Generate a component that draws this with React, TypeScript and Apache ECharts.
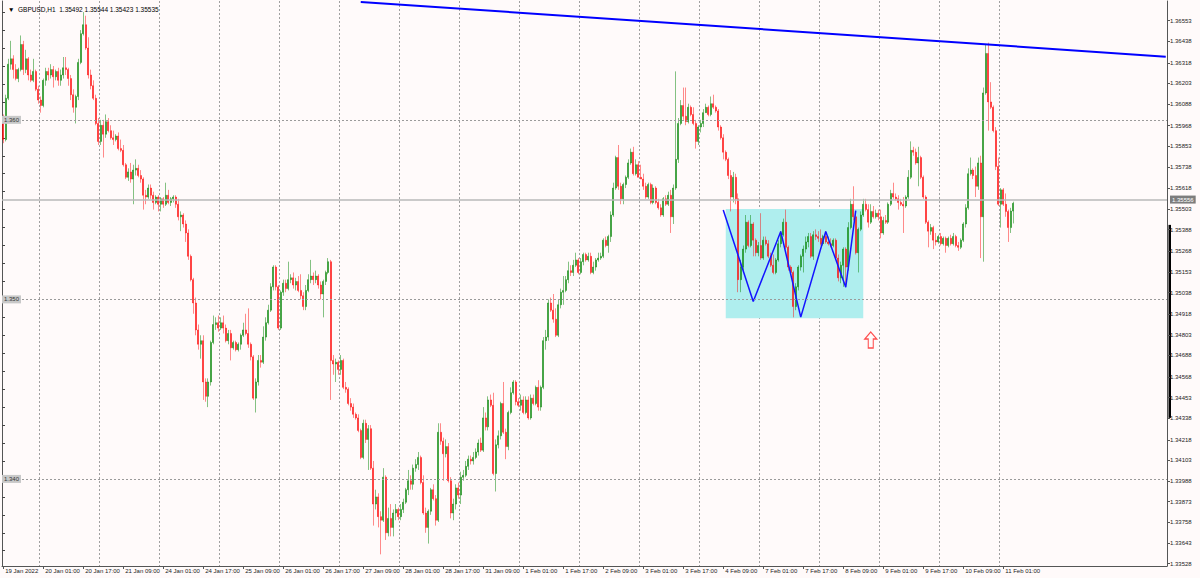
import React, { useEffect, useRef } from "react";
import * as echarts from "echarts";

// ---- GBPUSD H1 bars (bar 0 = 19 Jan 2022 09:00) ----
const opens = [
1.3600,1.3589,1.3612,1.3631,1.3634,1.3628,1.3623,1.3628,1.3642,1.3628,
1.3634,1.3625,1.3622,1.3627,1.3617,1.3611,1.3608,1.3622,1.3627,1.3625,
1.3628,1.3624,1.3627,1.3622,1.3625,1.3629,1.3628,1.3623,1.3614,1.3607,
1.3613,1.3632,1.3648,1.3653,1.3640,1.3625,1.3619,1.3612,1.3598,1.3588,
1.3597,1.3592,1.3599,1.3594,1.3590,1.3589,1.3591,1.3584,1.3583,1.3575,
1.3568,1.3571,1.3567,1.3572,1.3573,1.3569,1.3567,1.3558,1.3557,1.3562,
1.3558,1.3554,1.3557,1.3553,1.3556,1.3553,1.3558,1.3554,1.3556,1.3557,
1.3553,1.3546,1.3547,1.3542,1.3537,1.3524,1.3511,1.3498,1.3483,1.3475,
1.3477,1.3454,1.3446,1.3454,1.3476,1.3486,1.3487,1.3484,1.3487,1.3484,
1.3477,1.3481,1.3473,1.3476,1.3472,1.3475,1.3480,1.3483,1.3481,1.3475,
1.3468,1.3445,1.3454,1.3466,1.3465,1.3479,1.3487,1.3494,1.3507,1.3518,
1.3507,1.3484,1.3504,1.3509,1.3506,1.3511,1.3512,1.3508,1.3510,1.3505,
1.3502,1.3496,1.3505,1.3511,1.3513,1.3511,1.3513,1.3508,1.3503,1.3510,
1.3515,1.3521,1.3466,1.3464,1.3465,1.3461,1.3466,1.3451,1.3450,1.3442,
1.3440,1.3436,1.3434,1.3427,1.3412,1.3431,1.3422,1.3428,1.3406,1.3386,
1.3390,1.3379,1.3377,1.3401,1.3370,1.3378,1.3373,1.3381,1.3383,1.3379,
1.3383,1.3387,1.3394,1.3399,1.3397,1.3406,1.3408,1.3412,1.3398,1.3381,
1.3373,1.3382,1.3394,1.3389,1.3377,1.3426,1.3421,1.3414,1.3418,1.3399,
1.3381,1.3386,1.3395,1.3391,1.3401,1.3402,1.3407,1.3411,1.3410,1.3412,
1.3415,1.3420,1.3416,1.3434,1.3429,1.3444,1.3441,1.3403,1.3419,1.3424,
1.3442,1.3426,1.3418,1.3437,1.3448,1.3454,1.3443,1.3441,1.3444,1.3437,
1.3444,1.3434,1.3445,1.3442,1.3451,1.3440,1.3451,1.3477,1.3479,1.3498,
1.3494,1.3489,1.3480,1.3497,1.3504,1.3505,1.3511,1.3516,1.3515,1.3519,
1.3522,1.3515,1.3521,1.3525,1.3522,1.3524,1.3515,1.3518,1.3522,1.3523,
1.3524,1.3533,1.3530,1.3535,1.3547,1.3562,1.3579,1.3563,1.3556,1.3564,
1.3568,1.3576,1.3582,1.3570,1.3575,1.3568,1.3567,1.3563,1.3557,1.3564,
1.3554,1.3562,1.3554,1.3551,1.3547,1.3556,1.3553,1.3558,1.3546,1.3562,
1.3578,1.3598,1.3608,1.3602,1.3599,1.3607,1.3603,1.3598,1.3588,1.3596,
1.3598,1.3604,1.3607,1.3603,1.3609,1.3607,1.3605,1.3596,1.3590,1.3582,
1.3578,1.3569,1.3557,1.3568,1.3556,1.3511,1.3518,1.3528,1.3543,1.3530,
1.3542,1.3533,1.3526,1.3530,1.3523,1.3533,1.3531,1.3524,1.3519,1.3515,
1.3522,1.3531,1.3536,1.3543,1.3529,1.3518,1.3515,1.3496,1.3507,1.3518,
1.3524,1.3528,1.3532,1.3535,1.3524,1.3536,1.3535,1.3534,1.3531,1.3535,
1.3532,1.3531,1.3530,1.3533,1.3523,1.3512,1.3519,1.3528,1.3518,1.3540,
1.3553,1.3546,1.3526,1.3539,1.3547,1.3553,1.3550,1.3543,1.3549,1.3546,
1.3548,1.3546,1.3537,1.3544,1.3543,1.3553,1.3559,1.3557,1.3556,1.3554,
1.3553,1.3552,1.3557,1.3568,1.3583,1.3582,1.3576,1.3579,1.3568,1.3557,
1.3543,1.3538,1.3540,1.3533,1.3532,1.3535,1.3531,1.3534,1.3530,1.3534,
1.3531,1.3535,1.3530,1.3529,1.3533,1.3542,1.3551,1.3570,1.3572,1.3569,
1.3563,1.3576,1.3546,1.3615,1.3637,1.3610,1.3607,1.3594,1.3574,1.3553,
1.3561,1.3553,1.3549,1.3540,1.35492,
];

const highs = [
1.3603,1.3614,1.3634,1.3644,1.3636,1.3631,1.3629,1.3647,1.3644,1.3639,
1.3635,1.3628,1.3634,1.3628,1.3619,1.3613,1.3623,1.3629,1.3629,1.3631,
1.3630,1.3628,1.3629,1.3628,1.3635,1.3635,1.3629,1.3625,1.3617,1.3614,
1.3634,1.3650,1.3660,1.3658,1.3646,1.3628,1.3622,1.3614,1.3601,1.3600,
1.3600,1.3603,1.3601,1.3597,1.3594,1.3592,1.3593,1.3589,1.3586,1.3576,
1.3573,1.3576,1.3575,1.3578,1.3575,1.3572,1.3568,1.3561,1.3564,1.3564,
1.3560,1.3558,1.3558,1.3557,1.3557,1.3565,1.3561,1.3557,1.3558,1.3558,
1.3556,1.3549,1.3548,1.3544,1.3539,1.3525,1.3512,1.3501,1.3486,1.3480,
1.3480,1.3456,1.3456,1.3477,1.3491,1.3490,1.3491,1.3490,1.3491,1.3486,
1.3483,1.3483,1.3477,1.3477,1.3476,1.3481,1.3487,1.3492,1.3495,1.3476,
1.3469,1.3456,1.3469,1.3469,1.3485,1.3490,1.3497,1.3509,1.3519,1.3519,
1.3508,1.3505,1.3511,1.3511,1.3521,1.3514,1.3515,1.3512,1.3513,1.3514,
1.3504,1.3508,1.3514,1.3522,1.3515,1.3516,1.3514,1.3510,1.3511,1.3516,
1.3523,1.3522,1.3469,1.3467,1.3466,1.3469,1.3467,1.3454,1.3451,1.3445,
1.3442,1.3437,1.3436,1.3428,1.3433,1.3433,1.3430,1.3430,1.3410,1.3394,
1.3392,1.3382,1.3406,1.3402,1.3384,1.3386,1.3383,1.3386,1.3384,1.3386,
1.3389,1.3395,1.3405,1.3402,1.3408,1.3411,1.3415,1.3413,1.3402,1.3384,
1.3383,1.3395,1.3397,1.3391,1.3431,1.3431,1.3423,1.3422,1.3420,1.3401,
1.3389,1.3397,1.3398,1.3404,1.3405,1.3410,1.3413,1.3413,1.3415,1.3417,
1.3422,1.3423,1.3440,1.3437,1.3446,1.3447,1.3448,1.3422,1.3427,1.3443,
1.3454,1.3428,1.3438,1.3451,1.3455,1.3455,1.3445,1.3447,1.3446,1.3446,
1.3446,1.3447,1.3447,1.3452,1.3455,1.3452,1.3479,1.3483,1.3500,1.3501,
1.3503,1.3495,1.3500,1.3506,1.3513,1.3513,1.3521,1.3519,1.3522,1.3526,
1.3523,1.3523,1.3526,1.3526,1.3526,1.3526,1.3521,1.3523,1.3526,1.3526,
1.3534,1.3535,1.3536,1.3549,1.3565,1.3580,1.3586,1.3565,1.3565,1.3569,
1.3578,1.3584,1.3585,1.3578,1.3577,1.3575,1.3570,1.3565,1.3565,1.3565,
1.3564,1.3563,1.3556,1.3553,1.3557,1.3558,1.3560,1.3561,1.3564,1.3627,
1.3601,1.3611,1.3618,1.3618,1.3609,1.3608,1.3607,1.3600,1.3597,1.3600,
1.3606,1.3609,1.3608,1.3613,1.3614,1.3608,1.3606,1.3597,1.3592,1.3583,
1.3579,1.3572,1.3571,1.3570,1.3559,1.3522,1.3530,1.3547,1.3544,1.3547,
1.3543,1.3534,1.3532,1.3548,1.3535,1.3535,1.3533,1.3526,1.3525,1.3523,
1.3533,1.3538,1.3545,1.3550,1.3530,1.3519,1.3516,1.3509,1.3519,1.3525,
1.3530,1.3535,1.3537,1.3537,1.3538,1.3539,1.3538,1.3539,1.3536,1.3538,
1.3535,1.3534,1.3534,1.3534,1.3525,1.3521,1.3529,1.3529,1.3543,1.3556,
1.3563,1.3547,1.3540,1.3549,1.3556,1.3556,1.3553,1.3553,1.3552,1.3550,
1.3550,1.3550,1.3546,1.3547,1.3554,1.3561,1.3565,1.3559,1.3558,1.3556,
1.3557,1.3558,1.3572,1.3588,1.3585,1.3584,1.3585,1.3580,1.3569,1.3558,
1.3544,1.3542,1.3541,1.3537,1.3536,1.3537,1.3535,1.3535,1.3535,1.3536,
1.3537,1.3536,1.3532,1.3534,1.3543,1.3553,1.3573,1.3579,1.3573,1.3574,
1.3579,1.3580,1.3618,1.3642,1.3643,1.3621,1.3608,1.3596,1.3579,1.3562,
1.3562,1.3559,1.3550,1.3551,1.35544,
];

const lows = [
1.3587,1.3588,1.3611,1.3628,1.3623,1.3622,1.3621,1.3627,1.3625,1.3626,
1.3622,1.3621,1.3621,1.3616,1.3609,1.3604,1.3607,1.3619,1.3622,1.3623,
1.3618,1.3622,1.3619,1.3619,1.3623,1.3625,1.3619,1.3611,1.3604,1.3598,
1.3611,1.3631,1.3647,1.3639,1.3623,1.3617,1.3611,1.3597,1.3586,1.3586,
1.3579,1.3590,1.3593,1.3589,1.3586,1.3588,1.3583,1.3582,1.3574,1.3567,
1.3566,1.3565,1.3553,1.3569,1.3568,1.3565,1.3550,1.3553,1.3556,1.3556,
1.3550,1.3553,1.3549,1.3549,1.3551,1.3552,1.3553,1.3552,1.3554,1.3551,
1.3544,1.3538,1.3540,1.3532,1.3522,1.3510,1.3492,1.3480,1.3472,1.3467,
1.3444,1.3443,1.3440,1.3452,1.3475,1.3483,1.3482,1.3483,1.3481,1.3476,
1.3475,1.3466,1.3472,1.3471,1.3471,1.3472,1.3479,1.3480,1.3473,1.3466,
1.3444,1.3437,1.3452,1.3462,1.3464,1.3477,1.3486,1.3493,1.3505,1.3505,
1.3483,1.3483,1.3502,1.3504,1.3505,1.3509,1.3506,1.3505,1.3504,1.3500,
1.3494,1.3494,1.3504,1.3509,1.3508,1.3509,1.3506,1.3500,1.3490,1.3508,
1.3514,1.3444,1.3458,1.3454,1.3458,1.3458,1.3450,1.3448,1.3441,1.3438,
1.3434,1.3433,1.3426,1.3411,1.3411,1.3420,1.3405,1.3405,1.3374,1.3383,
1.3373,1.3358,1.3376,1.3366,1.3368,1.3368,1.3368,1.3377,1.3377,1.3377,
1.3381,1.3386,1.3391,1.3394,1.3394,1.3404,1.3405,1.3397,1.3380,1.3370,
1.3364,1.3380,1.3388,1.3374,1.3376,1.3419,1.3399,1.3412,1.3398,1.3378,
1.3377,1.3383,1.3389,1.3386,1.3399,1.3401,1.3405,1.3408,1.3408,1.3411,
1.3413,1.3415,1.3415,1.3427,1.3427,1.3440,1.3402,1.3393,1.3417,1.3422,
1.3425,1.3411,1.3416,1.3436,1.3447,1.3441,1.3440,1.3438,1.3436,1.3436,
1.3433,1.3433,1.3441,1.3441,1.3438,1.3438,1.3450,1.3472,1.3477,1.3493,
1.3487,1.3479,1.3479,1.3495,1.3497,1.3504,1.3509,1.3513,1.3513,1.3518,
1.3514,1.3514,1.3519,1.3521,1.3521,1.3514,1.3514,1.3516,1.3521,1.3522,
1.3523,1.3529,1.3526,1.3532,1.3546,1.3561,1.3561,1.3553,1.3553,1.3562,
1.3567,1.3575,1.3569,1.3569,1.3568,1.3567,1.3561,1.3556,1.3556,1.3553,
1.3553,1.3553,1.3550,1.3546,1.3546,1.3552,1.3552,1.3537,1.3542,1.3561,
1.3576,1.3597,1.3600,1.3597,1.3598,1.3602,1.3597,1.3584,1.3586,1.3593,
1.3596,1.3604,1.3602,1.3602,1.3606,1.3604,1.3594,1.3589,1.3578,1.3577,
1.3567,1.3549,1.3554,1.3553,1.3504,1.3504,1.3516,1.3526,1.3529,1.3529,
1.3524,1.3524,1.3524,1.3522,1.3522,1.3530,1.3523,1.3518,1.3514,1.3514,
1.3521,1.3529,1.3535,1.3528,1.3516,1.3514,1.3490,1.3494,1.3505,1.3516,
1.3515,1.3526,1.3529,1.3523,1.3522,1.3533,1.3532,1.3530,1.3530,1.3531,
1.3530,1.3529,1.3529,1.3522,1.3510,1.3509,1.3507,1.3507,1.3516,1.3539,
1.3544,1.3525,1.3515,1.3538,1.3546,1.3549,1.3540,1.3542,1.3545,1.3545,
1.3544,1.3534,1.3536,1.3542,1.3542,1.3552,1.3556,1.3555,1.3550,1.3552,
1.3537,1.3551,1.3556,1.3567,1.3580,1.3575,1.3563,1.3567,1.3556,1.3542,
1.3529,1.3536,1.3528,1.3530,1.3531,1.3530,1.3530,1.3526,1.3529,1.3530,
1.3530,1.3529,1.3527,1.3528,1.3532,1.3540,1.3550,1.3569,1.3567,1.3557,
1.3561,1.3523,1.3521,1.3614,1.3594,1.3606,1.3593,1.3572,1.3552,1.3540,
1.3552,1.3546,1.3532,1.3537,1.35423,
];

const closes = [
1.3589,1.3612,1.3631,1.3634,1.3628,1.3623,1.3628,1.3642,1.3628,1.3634,
1.3625,1.3622,1.3627,1.3617,1.3611,1.3608,1.3622,1.3627,1.3625,1.3628,
1.3624,1.3627,1.3622,1.3625,1.3629,1.3628,1.3623,1.3614,1.3607,1.3613,
1.3632,1.3648,1.3653,1.3640,1.3625,1.3619,1.3612,1.3598,1.3588,1.3597,
1.3592,1.3599,1.3594,1.3590,1.3589,1.3591,1.3584,1.3583,1.3575,1.3568,
1.3571,1.3567,1.3572,1.3573,1.3569,1.3567,1.3558,1.3557,1.3562,1.3558,
1.3554,1.3557,1.3553,1.3556,1.3553,1.3558,1.3554,1.3556,1.3557,1.3553,
1.3546,1.3547,1.3542,1.3537,1.3524,1.3511,1.3498,1.3483,1.3475,1.3477,
1.3454,1.3446,1.3454,1.3476,1.3486,1.3487,1.3484,1.3487,1.3484,1.3477,
1.3481,1.3473,1.3476,1.3472,1.3475,1.3480,1.3483,1.3481,1.3475,1.3468,
1.3445,1.3454,1.3466,1.3465,1.3479,1.3487,1.3494,1.3507,1.3518,1.3507,
1.3484,1.3504,1.3509,1.3506,1.3511,1.3512,1.3508,1.3510,1.3505,1.3502,
1.3496,1.3505,1.3511,1.3513,1.3511,1.3513,1.3508,1.3503,1.3510,1.3515,
1.3521,1.3466,1.3464,1.3465,1.3461,1.3466,1.3451,1.3450,1.3442,1.3440,
1.3436,1.3434,1.3427,1.3412,1.3431,1.3422,1.3428,1.3406,1.3386,1.3390,
1.3379,1.3377,1.3401,1.3370,1.3378,1.3373,1.3381,1.3383,1.3379,1.3383,
1.3387,1.3394,1.3399,1.3397,1.3406,1.3408,1.3412,1.3398,1.3381,1.3373,
1.3382,1.3394,1.3389,1.3377,1.3426,1.3421,1.3414,1.3418,1.3399,1.3381,
1.3386,1.3395,1.3391,1.3401,1.3402,1.3407,1.3411,1.3410,1.3412,1.3415,
1.3420,1.3416,1.3434,1.3429,1.3444,1.3441,1.3403,1.3419,1.3424,1.3442,
1.3426,1.3418,1.3437,1.3448,1.3454,1.3443,1.3441,1.3444,1.3437,1.3444,
1.3434,1.3445,1.3442,1.3451,1.3440,1.3451,1.3477,1.3479,1.3498,1.3494,
1.3489,1.3480,1.3497,1.3504,1.3505,1.3511,1.3516,1.3515,1.3519,1.3522,
1.3515,1.3521,1.3525,1.3522,1.3524,1.3515,1.3518,1.3522,1.3523,1.3524,
1.3533,1.3530,1.3535,1.3547,1.3562,1.3579,1.3563,1.3556,1.3564,1.3568,
1.3576,1.3582,1.3570,1.3575,1.3568,1.3567,1.3563,1.3557,1.3564,1.3554,
1.3562,1.3554,1.3551,1.3547,1.3556,1.3553,1.3558,1.3546,1.3562,1.3578,
1.3598,1.3608,1.3602,1.3599,1.3607,1.3603,1.3598,1.3588,1.3596,1.3598,
1.3604,1.3607,1.3603,1.3609,1.3607,1.3605,1.3596,1.3590,1.3582,1.3578,
1.3569,1.3557,1.3568,1.3556,1.3511,1.3518,1.3528,1.3543,1.3530,1.3542,
1.3533,1.3526,1.3530,1.3523,1.3533,1.3531,1.3524,1.3519,1.3515,1.3522,
1.3531,1.3536,1.3543,1.3529,1.3518,1.3515,1.3496,1.3507,1.3518,1.3524,
1.3528,1.3532,1.3535,1.3524,1.3536,1.3535,1.3534,1.3531,1.3535,1.3532,
1.3531,1.3530,1.3533,1.3523,1.3512,1.3519,1.3528,1.3518,1.3540,1.3553,
1.3546,1.3526,1.3539,1.3547,1.3553,1.3550,1.3543,1.3549,1.3546,1.3548,
1.3546,1.3537,1.3544,1.3543,1.3553,1.3559,1.3557,1.3556,1.3554,1.3553,
1.3552,1.3557,1.3568,1.3583,1.3582,1.3576,1.3579,1.3568,1.3557,1.3543,
1.3538,1.3540,1.3533,1.3532,1.3535,1.3531,1.3534,1.3530,1.3534,1.3531,
1.3535,1.3530,1.3529,1.3533,1.3542,1.3551,1.3570,1.3572,1.3569,1.3563,
1.3576,1.3546,1.3615,1.3637,1.3610,1.3607,1.3594,1.3574,1.3553,1.3561,
1.3553,1.3549,1.3540,1.35492,1.35535,
];

// right price scale labels (MT4 style)
const priceTickLabels = [
  1.33528, 1.33643, 1.33758, 1.33873, 1.33988, 1.34103, 1.34218, 1.34338, 1.34453,
  1.34568, 1.34688, 1.34803, 1.34918, 1.35038, 1.35153, 1.35268, 1.35388, 1.35503,
  1.35618, 1.35738, 1.35853, 1.35968, 1.36088, 1.36203, 1.36318, 1.36438, 1.36553,
];
const leftTickValues = [
  1.336, 1.337, 1.338, 1.339, 1.340, 1.341, 1.342, 1.343, 1.344, 1.345, 1.346,
  1.347, 1.348, 1.349, 1.350, 1.351, 1.352, 1.353, 1.354, 1.355, 1.356, 1.357,
  1.358, 1.359, 1.360, 1.361, 1.362, 1.363, 1.364, 1.365, 1.366,
];
const levelLines = [1.36, 1.35, 1.34];
const currentPrice = 1.35556;
const trendPoints = [[143, 1.36657], [465, 1.36352]];
const zigzagPoints = [
  [288, 1.35498], [300, 1.34988], [311, 1.35378], [319, 1.34901],
  [329, 1.35378], [337, 1.35068], [341, 1.35494],
];
const zoneFrom = [289, 1.35504];
const zoneTo = [344, 1.34895];
const arrowPoint = [347, 1.34774];
const sideBarRange = [1.3434, 1.35415];
const Y_MIN = 1.33515;
const Y_MAX = 1.36662;
const SLOTS = 466;

const MONTHS = ["Jan", "Feb", "Mar", "Apr", "May", "Jun", "Jul", "Aug", "Sep", "Oct", "Nov", "Dec"];
const FONT = "'Liberation Sans', Arial, sans-serif";

function buildTimes(n: number): number[] {
  const out: number[] = [];
  for (let t = Date.UTC(2022, 0, 19, 9); out.length < n; t += 3600000) {
    const wd = new Date(t).getUTCDay();
    if (wd !== 0 && wd !== 6) out.push(t);
  }
  return out;
}

export default function App() {
  const ref = useRef<HTMLDivElement>(null);

  useEffect(() => {
    if (!ref.current) return;
    const chart = echarts.init(ref.current, null, { renderer: "svg" });
    const n = opens.length;
    const times = buildTimes(n);
    const pad = (v: number) => (v < 10 ? "0" + v : "" + v);
    const categories: string[] = [];
    for (let i = 0; i < SLOTS; i++) {
      if (i < n) {
        const d = new Date(times[i]);
        categories.push(
          i === 0
            ? `${d.getUTCDate()} ${MONTHS[d.getUTCMonth()]} ${d.getUTCFullYear()}`
            : `${d.getUTCDate()} ${MONTHS[d.getUTCMonth()]} ${pad(d.getUTCHours())}:00`
        );
      } else {
        categories.push("slot" + i);
      }
    }
    const candles = opens.map((o, i) => [o, closes[i], lows[i], highs[i]]);
    const last = n - 1;
    const header = `\u25BC  GBPUSD,H1  ${opens[last].toFixed(5)} ${highs[last].toFixed(5)} ${lows[last].toFixed(5)} ${closes[last].toFixed(5)}`;
    const labelEvery = (idx: number) => idx % 16 === 0 && idx < n;
    const dayStart = (idx: number) => idx > 0 && idx < n && new Date(times[idx]).getUTCHours() === 0;

    const levelMarks = levelLines.map((v) => ({
      yAxis: v,
      lineStyle: { color: "#9a9a9a", type: [2, 2], width: 1 },
      label: {
        show: true,
        position: "insideStartTop",
        distance: 0,
        verticalAlign: "middle",
        formatter: v.toFixed(3),
        backgroundColor: "#c8c8c8",
        color: "#333",
        fontSize: 6,
        fontFamily: FONT,
        padding: [1, 2, 1, 2],
      },
    }));

    chart.setOption({
      animation: false,
      backgroundColor: "#fffafa",
      title: {
        text: header,
        left: 3,
        top: 1,
        textStyle: { fontSize: 6.5, fontWeight: "normal", color: "#000", fontFamily: FONT },
      },
      grid: { left: 2, top: 1, width: 1165, height: 565, containLabel: false },
      xAxis: {
        type: "category",
        data: categories,
        boundaryGap: true,
        axisLine: { lineStyle: { color: "#555", width: 1 } },
        axisTick: { show: true, alignWithLabel: true, interval: labelEvery, length: 3, lineStyle: { color: "#555" } },
        axisLabel: {
          interval: labelEvery,
          fontSize: 6,
          color: "#222",
          fontFamily: FONT,
          align: "left",
          margin: 2,
          padding: [0, 0, 0, 2],
        },
        splitLine: { show: true, interval: dayStart, lineStyle: { color: "#a0a0a0", type: [2, 2], width: 1 } },
      },
      yAxis: [
        {
          type: "value",
          position: "right",
          min: Y_MIN,
          max: Y_MAX,
          axisLine: { show: true, lineStyle: { color: "#555", width: 1 } },
          axisTick: { show: true, customValues: priceTickLabels, length: 3, lineStyle: { color: "#555" } },
          axisLabel: {
            customValues: priceTickLabels,
            formatter: (v: number) => v.toFixed(5),
            fontSize: 6,
            color: "#222",
            fontFamily: FONT,
            margin: 3,
          },
          splitLine: { show: false },
        },
        {
          type: "value",
          position: "left",
          min: Y_MIN,
          max: Y_MAX,
          axisLine: { show: true, lineStyle: { color: "#555", width: 1 } },
          axisTick: { show: true, inside: true, customValues: leftTickValues, length: 3, lineStyle: { color: "#444" } },
          axisLabel: { show: false },
          splitLine: { show: false },
        },
      ],
      series: [
        {
          type: "line",
          name: "zone",
          data: [],
          z: 1,
          silent: true,
          markArea: {
            silent: true,
            itemStyle: { color: "#afeeee", opacity: 1 },
            data: [[{ xAxis: zoneFrom[0], yAxis: zoneFrom[1] }, { xAxis: zoneTo[0], yAxis: zoneTo[1] }]],
          },
        },
        {
          type: "line",
          name: "levels",
          data: [],
          z: 2,
          silent: true,
          markLine: {
            silent: true,
            precision: 5,
            symbol: ["none", "none"],
            data: levelMarks,
          },
        },
        {
          type: "line",
          name: "price",
          data: [],
          z: 2,
          silent: true,
          markLine: {
            silent: true,
            precision: 5,
            symbol: ["none", "none"],
            data: [
              {
                yAxis: currentPrice,
                lineStyle: { color: "#b8b8b8", type: "solid", width: 1.5 },
                label: {
                  show: true,
                  position: "end",
                  distance: 3,
                  formatter: currentPrice.toFixed(5),
                  backgroundColor: "#7d7d7d",
                  color: "#fff",
                  fontSize: 6,
                  fontFamily: FONT,
                  padding: [1, 2, 1, 2],
                },
              },
            ],
          },
        },
        {
          type: "candlestick",
          name: "GBPUSD",
          data: candles,
          z: 3,
          barWidth: 1.8,
          itemStyle: {
            color: "#0a870a",
            color0: "#ff0000",
            borderColor: "rgba(10,135,10,0.5)",
            borderColor0: "rgba(255,0,0,0.45)",
            borderWidth: 1,
          },
        },
        {
          type: "line",
          name: "trend",
          data: trendPoints,
          symbol: "none",
          z: 4,
          silent: true,
          lineStyle: { color: "#0000ff", width: 2 },
        },
        {
          type: "line",
          name: "zigzag",
          data: zigzagPoints,
          symbol: "none",
          z: 4,
          silent: true,
          lineStyle: { color: "#1414ff", width: 1.5 },
        },
        {
          type: "scatter",
          name: "arrow",
          data: [arrowPoint],
          z: 5,
          silent: true,
          symbol: "path://M6,0 L12,7 L8.5,7 L8.5,16 L3.5,16 L3.5,7 L0,7 Z",
          symbolSize: [12, 16],
          itemStyle: { color: "rgba(255,250,250,0.9)", borderColor: "#ff2020", borderWidth: 1.2 },
        },
      ],
    });

    const yA = chart.convertToPixel({ yAxisIndex: 0 }, sideBarRange[1]) as number;
    const yB = chart.convertToPixel({ yAxisIndex: 0 }, sideBarRange[0]) as number;
    chart.setOption({
      graphic: [
        {
          type: "rect",
          silent: true,
          shape: { x: 1168.5, y: Math.min(yA, yB), width: 2.5, height: Math.abs(yB - yA) },
          style: { fill: "#000" },
        },
      ],
    });

    return () => chart.dispose();
  }, []);

  return (
    <div
      ref={ref}
      style={{ position: "absolute", left: 0, top: 0, width: 1200, height: 578 }}
    />
  );
}
